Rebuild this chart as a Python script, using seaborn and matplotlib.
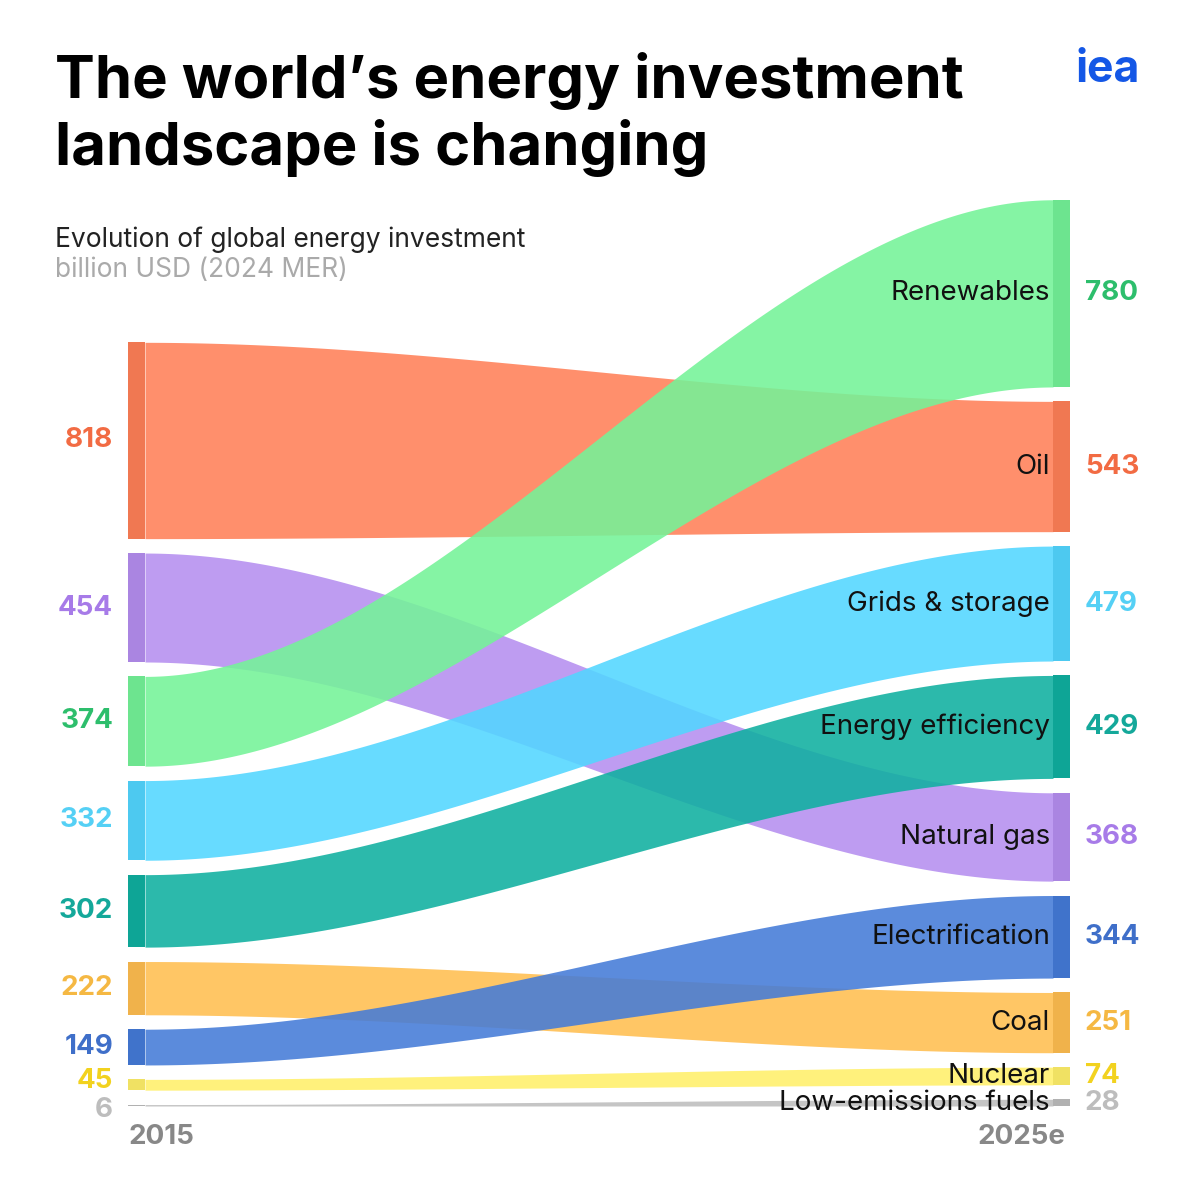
import numpy as np
import matplotlib
matplotlib.use("Agg")
import matplotlib.pyplot as plt
import seaborn as sns

sns.set_theme(style="white")
plt.rcParams['font.family'] = ['Inter', 'DejaVu Sans']

categories = ["Oil", "Natural gas", "Renewables", "Grids & storage", "Energy efficiency",
              "Coal", "Electrification", "Nuclear", "Low-emissions fuels"]
values_2015 = [818, 454, 374, 332, 302, 222, 149, 45, 6]
values_2025 = [543, 368, 780, 479, 429, 251, 344, 74, 28]
order_2025 = ["Renewables", "Oil", "Grids & storage", "Energy efficiency", "Natural gas",
              "Electrification", "Coal", "Nuclear", "Low-emissions fuels"]
fill_colors = ["#FF8058", "#B58EF0", "#74F398", "#52D6FF", "#0FB0A0",
               "#FFBE50", "#447BD8", "#FFF06A", "#BDBDBD"]
label_colors = ["#F26B43", "#A77BE8", "#2DBE6C", "#55D0F5", "#14A89A",
                "#F5B843", "#3F6FC9", "#F2D21F", "#BDBDBD"]
# small vertical nudges (value units) for crowded left labels
left_nudge = [0, 0, 0, 0, 0, 0, 0, 15, -20]

GAP = 60          # value units between bands
PX = 0.24         # pixels per value unit
BASE = 1106       # pixel row of value 0
x_left, x_right, strip = 128, 1070, 17

def stack(vals):
    # positions from bottom upward, returns (bottom, top) per band, listed top-to-bottom
    out = []
    y = 0
    for v in reversed(vals):
        out.append((y, y + v))
        y += v + GAP
    return out[::-1]

left_pos = dict(zip(categories, stack(values_2015)))
v25 = dict(zip(categories, values_2025))
right_pos = dict(zip(order_2025, stack([v25[c] for c in order_2025])))

fig = plt.figure(figsize=(12, 12), dpi=100)
ax = fig.add_axes([0, 0, 1, 1])
ax.set_xlim(0, 1200)
ax.set_ylim(-(1200 - BASE) / PX, BASE / PX)
ax.axis("off")

t = np.linspace(0, 1, 200)
s = 3 * t**2 - 2 * t**3
xs = x_left + strip + t * (x_right - x_left - 2 * strip)
for c, fc in zip(categories, fill_colors):
    lb, lt = left_pos[c]
    rb, rt = right_pos[c]
    ax.fill_between(xs, lb + (rb - lb) * s, lt + (rt - lt) * s, color=fc, alpha=0.88, lw=0)
    ax.fill_between([x_left, x_left + strip], lb, lt, color=fc, lw=0)
    ax.fill_between([x_right - strip, x_right], rb, rt, color=fc, lw=0)
    ax.fill_between([x_left, x_left + strip], lb, lt, color="black", alpha=0.06, lw=0)
    ax.fill_between([x_right - strip, x_right], rb, rt, color="black", alpha=0.06, lw=0)

for c, lc, v1, nd in zip(categories, label_colors, values_2015, left_nudge):
    lb, lt = left_pos[c]
    rb, rt = right_pos[c]
    ax.text(113, (lb + lt) / 2 + nd, str(v1), ha="right", va="center", fontsize=20,
            fontweight="bold", color=lc)
    ax.text(1085, (rb + rt) / 2, str(v25[c]), ha="left", va="center", fontsize=20,
            fontweight="bold", color=lc)
    ax.text(1050, (rb + rt) / 2, c, ha="right", va="center", fontsize=20, color="#111111")

ax.text(128, -130, "2015", ha="left", va="center", fontsize=20, fontweight="bold", color="#888888")
ax.text(1065, -130, "2025e", ha="right", va="center", fontsize=20, fontweight="bold", color="#888888")

fig.text(55 / 1200, 1 - 52 / 1200, "The world’s energy investment\nlandscape is changing",
         fontsize=43, fontweight="bold", color="black", va="top", linespacing=1.2)
fig.text(0.046, 1 - 240 / 1200, "Evolution of global energy investment", fontsize=19,
         color="#222222", va="center")
fig.text(0.046, 1 - 270 / 1200, "billion USD (2024 MER)", fontsize=19, color="#AAAAAA", va="center")
fig.text(1140 / 1200, 1 - 70 / 1200, "iea", fontsize=32, fontweight="bold", color="#1457E6",
         ha="right", va="center")

fig.savefig("out.png", dpi=100)
